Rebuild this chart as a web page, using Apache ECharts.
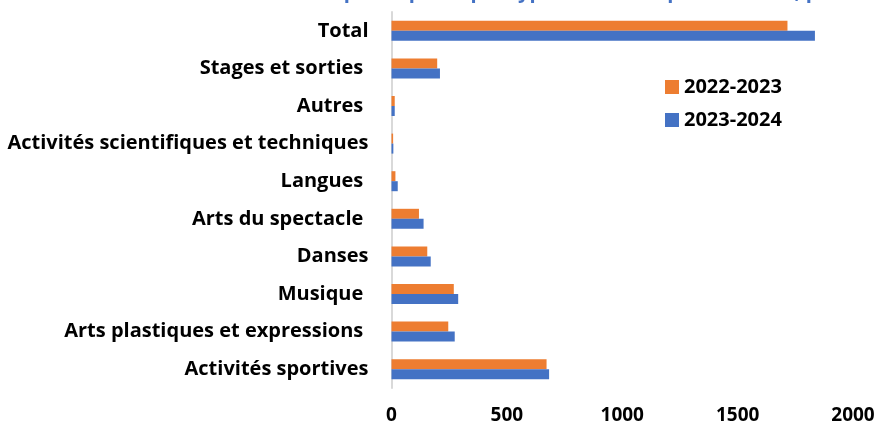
<!DOCTYPE html>
<html>
<head>
<meta charset="utf-8">
<script src="https://cdn.jsdelivr.net/npm/echarts@6/dist/echarts.min.js"></script>
<style>
  html, body { margin: 0; padding: 0; background: #fff; }
  #chart { width: 880px; height: 425px; }
</style>
</head>
<body>
<div id="chart"></div>
<script>
// categories from bottom to top (category axis starts at the bottom)
var categories = [
    'Activités sportives',
    'Arts plastiques et expressions ',
    'Musique ',
    'Danses',
    'Arts du spectacle ',
    'Langues ',
    'Activités scientifiques et techniques',
    'Autres ',
    'Stages et sorties ',
    'Total'
];
var values2022 = [672, 246, 270, 155, 119, 17, 7, 14, 198, 1716];
var values2023 = [683, 274, 289, 170, 139, 27, 8, 14, 210, 1835];
var seriesNames = ['2022-2023', '2023-2024'];
var xTicks = [0, 500, 1000, 1500, 2000];

var FONT = 'Open Sans';
var chart = echarts.init(document.getElementById('chart'));

chart.setOption({
    animation: false,
    textStyle: { fontFamily: FONT },
    title: {
        // only the bottom of the title is visible in the source picture
        text: "Nombre de participants par type d'activités périscolaires, par année",
        left: 222,
        top: -23,
        textStyle: { color: '#4472C4', fontSize: 20, fontWeight: 'bold', fontFamily: FONT }
    },
    legend: {
        orient: 'vertical',
        left: 660,
        top: 72,
        itemWidth: 14,
        itemHeight: 14,
        itemGap: 13,
        icon: 'rect',
        data: seriesNames,
        textStyle: { fontSize: 20, fontWeight: 'bold', color: '#000', fontFamily: FONT }
    },
    grid: {
        left: 391.5,
        right: 27,
        top: 12,
        bottom: 36
    },
    xAxis: {
        type: 'value',
        min: xTicks[0],
        max: xTicks[xTicks.length - 1],
        interval: 500,
        axisLine: { show: false },
        axisTick: { show: false },
        splitLine: { show: false },
        axisLabel: {
            fontSize: 19, fontWeight: 'bold', color: '#000', margin: 18,
            formatter: function (v) { return String(v); }
        }
    },
    yAxis: {
        type: 'category',
        data: categories,
        axisLine: { show: true, lineStyle: { color: '#d9d9d9', width: 2 } },
        axisTick: { show: false },
        axisLabel: { fontSize: 20, fontWeight: 'bold', color: '#000', margin: 23 }
    },
    series: [{
        name: seriesNames[0],
        type: 'bar',
        data: values2022,
        barWidth: 10,
        barGap: '0%',
        itemStyle: { color: '#ED7D31' }
    }, {
        name: seriesNames[1],
        type: 'bar',
        data: values2023,
        barWidth: 10,
        barGap: '0%',
        itemStyle: { color: '#4472C4' }
    }]
});
</script>
</body>
</html>
